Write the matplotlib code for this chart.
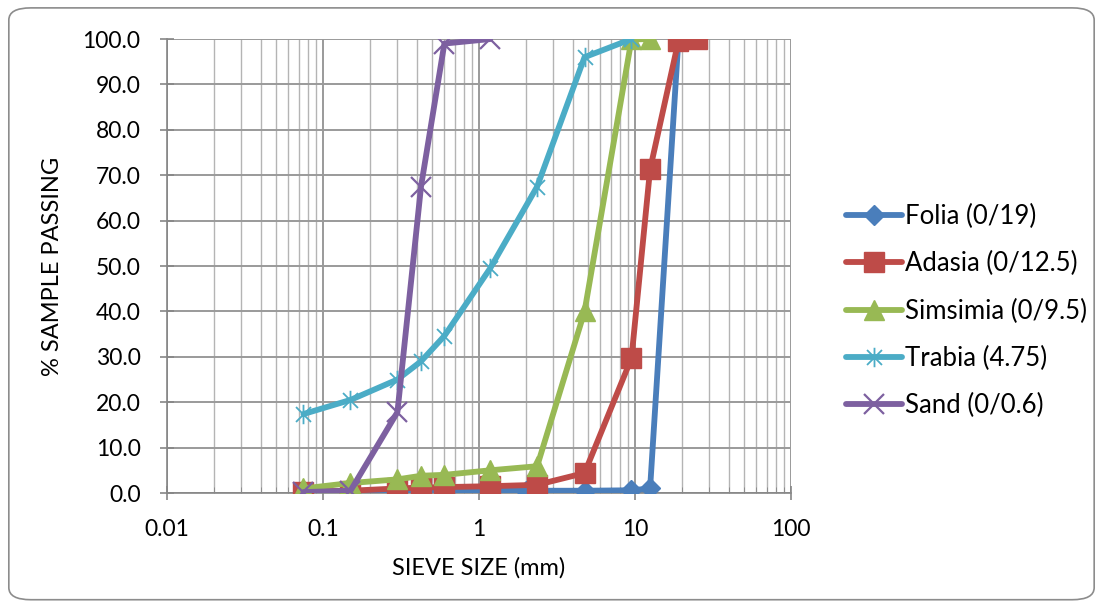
import matplotlib
matplotlib.use("Agg")
import matplotlib.pyplot as plt
from matplotlib.path import Path
from matplotlib.patches import FancyBboxPatch
from matplotlib.ticker import LogLocator, FixedLocator, NullFormatter, FuncFormatter

plt.rcParams['font.family'] = ['Lato', 'DejaVu Sans']

sieves_folia = [0.075, 0.15, 0.3, 0.425, 0.6, 1.18, 2.0, 4.75, 9.5, 12.5, 19]
folia = [0.3, 0.4, 0.5, 0.5, 0.5, 0.5, 0.5, 0.5, 0.6, 1.0, 100.0]

sieves_adasia = [0.075, 0.15, 0.3, 0.425, 0.6, 1.18, 2.36, 4.75, 9.5, 12.5, 19, 25]
adasia = [0.3, 0.5, 1.0, 1.2, 1.3, 1.5, 1.8, 4.4, 29.7, 71.3, 99.6, 100.0]

sieves_simsimia = [0.075, 0.15, 0.3, 0.425, 0.6, 1.18, 2.36, 4.75, 9.5, 12.5]
simsimia = [1.0, 2.2, 3.0, 3.8, 4.0, 5.0, 5.9, 40.0, 99.9, 100.0]

sieves_trabia = [0.075, 0.15, 0.3, 0.425, 0.6, 1.18, 2.36, 4.75, 9.5]
trabia = [17.4, 20.5, 25.0, 29.0, 34.6, 49.5, 67.5, 96.0, 100.0]

sieves_sand = [0.075, 0.15, 0.3, 0.425, 0.6, 1.18]
sand = [0.2, 0.5, 17.8, 67.5, 99.0, 100.0]

labels = ["Folia (0/19)", "Adasia (0/12.5)", "Simsimia (0/9.5)", "Trabia (4.75)", "Sand (0/0.6)"]
colors = ["#4a7ebb", "#be4b48", "#98b954", "#4bacc6", "#7d60a0"]

y_ticks = [0, 10, 20, 30, 40, 50, 60, 70, 80, 90, 100]
x_ticks = [0.01, 0.1, 1, 10, 100]
x_ticklabels = ["0.01", "0.1", "1", "10", "100"]

# asterisk marker (x plus vertical line)
star = Path([(-1, -1), (1, 1), (-1, 1), (1, -1), (0, -1.3), (0, 1.3)],
            [Path.MOVETO, Path.LINETO, Path.MOVETO, Path.LINETO, Path.MOVETO, Path.LINETO])

fig = plt.figure(figsize=(11.03, 6.07), dpi=100)
border = FancyBboxPatch((0.008, 0.012), 0.984, 0.975, boxstyle="round,pad=0,rounding_size=0.02",
                        transform=fig.transFigure, facecolor="white", edgecolor="#8c8c8c",
                        linewidth=1.2, zorder=-10)
fig.patches.append(border)

ax = fig.add_axes([0.1514, 0.1878, 0.5657, 0.7479])
ax.set_facecolor("none")

series = [
    (sieves_folia, folia, dict(marker="D", markersize=10)),
    (sieves_adasia, adasia, dict(marker="s", markersize=14)),
    (sieves_simsimia, simsimia, dict(marker="^", markersize=14)),
    (sieves_trabia, trabia, dict(marker=star, markersize=14, markerfacecolor="none", markeredgewidth=1.3)),
    (sieves_sand, sand, dict(marker="x", markersize=14, markeredgewidth=1.6)),
]
for (xs, ys, mk), lab, c in zip(series, labels, colors):
    ax.plot(xs, ys, color=c, linewidth=4.2, label=lab, markeredgecolor=c,
            **({"markerfacecolor": c} if "markerfacecolor" not in mk else {}), **mk,
            solid_capstyle="round", zorder=3)

ax.set_xscale("log")
ax.set_xlim(0.01, 100)
ax.set_ylim(0, 100)
ax.xaxis.set_major_locator(FixedLocator(x_ticks))
ax.set_xticklabels(x_ticklabels)
ax.xaxis.set_minor_locator(LogLocator(base=10, subs=[2, 3, 4, 5, 6, 7, 8, 9]))
ax.xaxis.set_minor_formatter(NullFormatter())
ax.set_yticks(y_ticks)
ax.yaxis.set_major_formatter(FuncFormatter(lambda v, p: f"{v:.1f}"))

ax.grid(True, which="major", axis="both", color="#9a9a9a", linewidth=1.4)
ax.grid(True, which="minor", axis="x", color="#b4b4b4", linewidth=1.0)
ax.set_axisbelow(True)
for s in ["top", "right"]:
    ax.spines[s].set_visible(False)
for s in ["left", "bottom"]:
    ax.spines[s].set_color("#868686")
    ax.spines[s].set_linewidth(1.2)
ax.tick_params(axis="both", which="major", labelsize=16.5, length=10, color="#868686",
               direction="inout", width=1.2)
ax.tick_params(axis="x", which="minor", length=4, direction="in", color="#868686")
ax.tick_params(axis="y", which="major", pad=14)
ax.tick_params(axis="x", which="major", pad=14)

ax.set_xlabel("SIEVE SIZE (mm)", fontsize=17, labelpad=12)
ax.set_ylabel("% SAMPLE PASSING", fontsize=17, labelpad=14)

leg = ax.legend(loc="center left", bbox_to_anchor=(0.758, 0.4876), bbox_transform=fig.transFigure,
                frameon=False, fontsize=18.5, handlelength=2.15, labelspacing=0.86, handletextpad=0.15,
                borderaxespad=0)

fig.savefig("out.png", dpi=100)
